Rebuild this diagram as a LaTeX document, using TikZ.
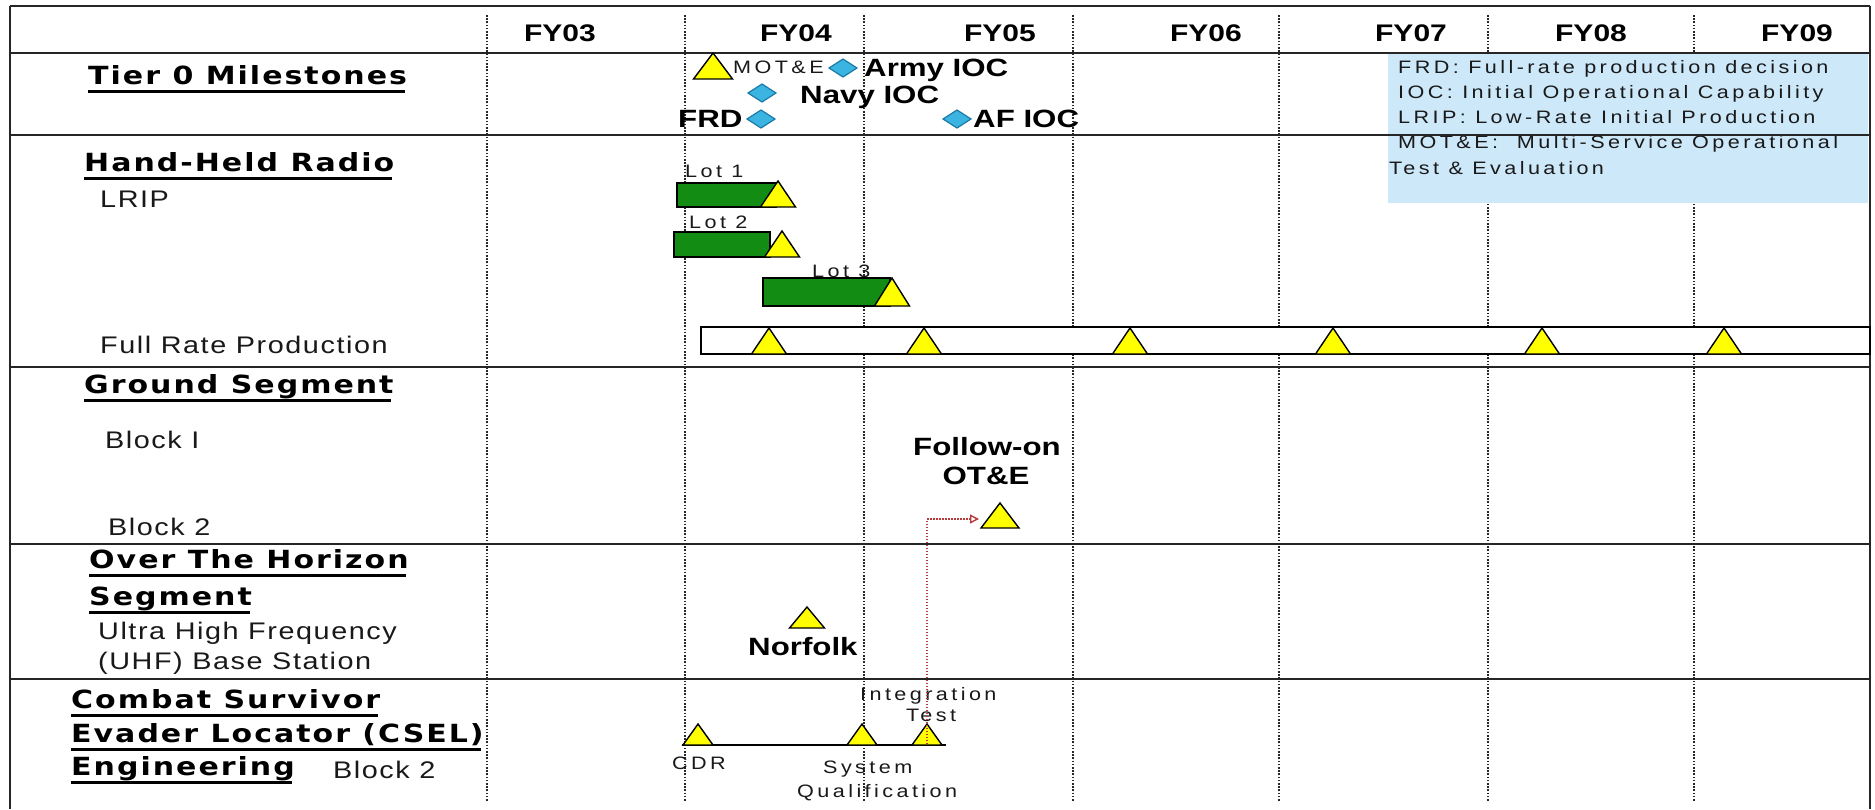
\documentclass[tikz,border=0pt]{standalone}
\usepackage{fontspec}
\setmainfont{Liberation Sans}
\newfontfamily\hfont[FakeStretch=1.2,LetterSpace=8]{DejaVu Sans}
\newfontfamily\nfont[FakeStretch=1.2,LetterSpace=6.5]{Liberation Sans}
\newfontfamily\sfont[FakeStretch=1.2,LetterSpace=19]{Liberation Sans}
\newfontfamily\bfont[FakeStretch=1.25]{Liberation Sans}
\usetikzlibrary{arrows.meta}
\definecolor{legblue}{HTML}{CDE8F9}
\definecolor{barGreen}{HTML}{128C12}
\definecolor{triYellow}{HTML}{FFFF00}
\definecolor{diaBlue}{HTML}{3CB4E2}
\definecolor{diaEdge}{HTML}{1B7BA6}
\definecolor{arrRed}{HTML}{B83A3A}
\newcommand{\ytri}[5]{\draw[tristyle] ({#2-#4},{#3+#5}) -- (#2,#3) -- ({#2+#4},{#3+#5}) -- cycle; \coordinate (#1) at (#2,#3);}
\newcommand{\bdia}[3]{\draw[diastyle] ({#2-14},#3) -- (#2,{#3-9}) -- ({#2+14},#3) -- (#2,{#3+9}) -- cycle; \coordinate (#1) at (#2,#3);}
\begin{document}
\begin{tikzpicture}[x=1pt,y=-1pt,
  rowline/.style={line width=2pt,black!85},
  vdot/.style={line width=1.6pt,black!85,dash pattern=on 1.6pt off 1.6pt},
  tristyle/.style={fill=triYellow,draw=black,line width=1.4pt,line join=miter},
  diastyle/.style={fill=diaBlue,draw=diaEdge,line width=1.2pt},
  greenbar/.style={fill=barGreen,draw=black,line width=1.4pt},
  head/.style={anchor=base west,inner sep=0pt,font=\hfont\bfseries\fontsize{25}{30}\selectfont},
  uline/.style={line width=3pt,black},
  ntext/.style={anchor=base west,inner sep=0pt,font=\nfont\fontsize{24}{28}\selectfont,text=black!90},
  stext/.style={anchor=base west,inner sep=0pt,font=\sfont\fontsize{18}{22}\selectfont,text=black!90},
  btext/.style={anchor=base west,inner sep=0pt,font=\bfont\bfseries\fontsize{25}{30}\selectfont},
  fytext/.style={anchor=base,inner sep=0pt,font=\bfont\bfseries\fontsize{24}{28}\selectfont},
  redarrow/.style={arrRed,line width=1.4pt,dash pattern=on 1.5pt off 1.5pt,-{Triangle[open,length=9pt,width=9pt]}}
]
\useasboundingbox (0,0) rectangle (1875,809);
\fill[white] (0,0) rectangle (1875,809);
% dotted year separators
\foreach \xx in {487,685,864,1073,1279,1488,1694}
  \draw[vdot] (\xx,15) -- (\xx,801);
% legend box
\fill[legblue] (1388,53) rectangle (1868,203);
\node[stext] (lg1) at (1398,73) {FRD: Full-rate production decision};
\node[stext] (lg2) at (1398,98) {IOC: Initial Operational Capability};
\node[stext] (lg3) at (1398,123) {LRIP: Low-Rate Initial Production};
\node[stext] (lg4) at (1398,148) {MOT\&E:\ \ Multi-Service Operational};
\node[stext] (lg5) at (1389,174) {Test \& Evaluation};
% table lines
\foreach \yy in {6,53,135,367,544,679}
  \draw[rowline] (10,\yy) -- (1870,\yy);
\draw[rowline] (10,6) -- (10,809);
\draw[rowline] (1870,6) -- (1870,809);
% year headers
\node[fytext] (fy03) at (560,41) {FY03};
\node[fytext] (fy04) at (796,41) {FY04};
\node[fytext] (fy05) at (1000,41) {FY05};
\node[fytext] (fy06) at (1206,41) {FY06};
\node[fytext] (fy07) at (1411,41) {FY07};
\node[fytext] (fy08) at (1591,41) {FY08};
\node[fytext] (fy09) at (1797,41) {FY09};
% row headings
\node[head] (h1) at (88,84) {Tier 0 Milestones};
\node[head] (h2) at (84,171) {Hand-Held Radio};
\node[head] (h3) at (84,393) {Ground Segment};
\node[head] (h4) at (89,568) {Over The Horizon};
\node[head] (h5) at (89,605) {Segment};
\node[head] (h6) at (71,708) {Combat Survivor};
\node[head] (h7) at (71,742) {Evader Locator (CSEL)};
\node[head] (h8) at (71,775) {Engineering};
\foreach \h in {h1,h2,h3,h4,h5,h6,h7,h8}
  \draw[uline] ([yshift=-7pt]\h.base west) -- ([yshift=-7pt,xshift=-2.5pt]\h.base east);
% row sub-labels
\node[ntext] (s1) at (100,207) {LRIP};
\node[ntext] (s2) at (100,353) {Full Rate Production};
\node[ntext] (s3) at (105,448) {Block I};
\node[ntext] (s4) at (108,535) {Block 2};
\node[ntext] (s5) at (98,639) {Ultra High Frequency};
\node[ntext] (s6) at (98,669) {(UHF) Base Station};
\node[ntext] (s7) at (333,778) {Block 2};
% Tier 0 milestones
\ytri{mote}{713}{53}{19.5}{26}
\node[stext] (motet) at (733,73) {MOT\&E};
\bdia{army}{843}{68}
\node[btext] (armyt) at (864,76) {Army IOC};
\bdia{navy}{762}{93}
\node[btext] (navyt) at (800,103) {Navy IOC};
\node[btext] (frdt) at (678,127) {FRD};
\bdia{frd}{761}{119}
\bdia{af}{957}{119}
\node[btext] (aft) at (973,127) {AF IOC};
% LRIP lots
\node[stext] (lot1) at (685,177) {Lot 1};
\draw[greenbar] (677,183) rectangle (776,207);
\ytri{l1}{778}{181}{17.5}{26}
\node[stext] (lot2) at (689,228) {Lot 2};
\draw[greenbar] (674,232) rectangle (770,257);
\ytri{l2}{782}{231}{17.5}{26}
\node[stext] (lot3) at (812,277) {Lot 3};
\draw[greenbar] (763,278) rectangle (890,306);
\ytri{l3}{892}{278}{17.5}{28}
% Full rate production bar
\draw[fill=white,draw=black,line width=1.8pt] (701,327) rectangle (1870,354);
\foreach \xx/\nm in {769/f1,924/f2,1130/f3,1333/f4,1542/f5,1724/f6}
  {\ytri{\nm}{\xx}{328}{17.5}{26}}
% Ground segment
\node[btext,anchor=base] (fol1) at (987,455) {Follow-on};
\node[btext,anchor=base] (fol2) at (986,484) {OT\&E};
\ytri{fo}{1000}{503}{19}{25}
\coordinate (foin) at (979,519);
% Over the horizon
\ytri{nf}{807}{607}{17.5}{21}
\node[btext] (nft) at (748,655) {Norfolk};
% CSEL
\draw[line width=1.8pt,black] (682,745) -- (946,745);
\ytri{cdr}{698}{724}{15}{21}
\ytri{sq}{862}{724}{15}{21}
\ytri{it}{927}{724}{15}{21}
\coordinate (itb) at (927,744);
\node[stext] (cdrt) at (672,769) {CDR};
\node[stext] (sqt1) at (823,773) {System};
\node[stext] (sqt2) at (797,797) {Qualification};
\node[stext] (itt1) at (860,700) {Integration};
\node[stext] (itt2) at (906,721) {Test};
% dependency arrow
\draw[redarrow] (itb) |- (foin);
\end{tikzpicture}
\end{document}
